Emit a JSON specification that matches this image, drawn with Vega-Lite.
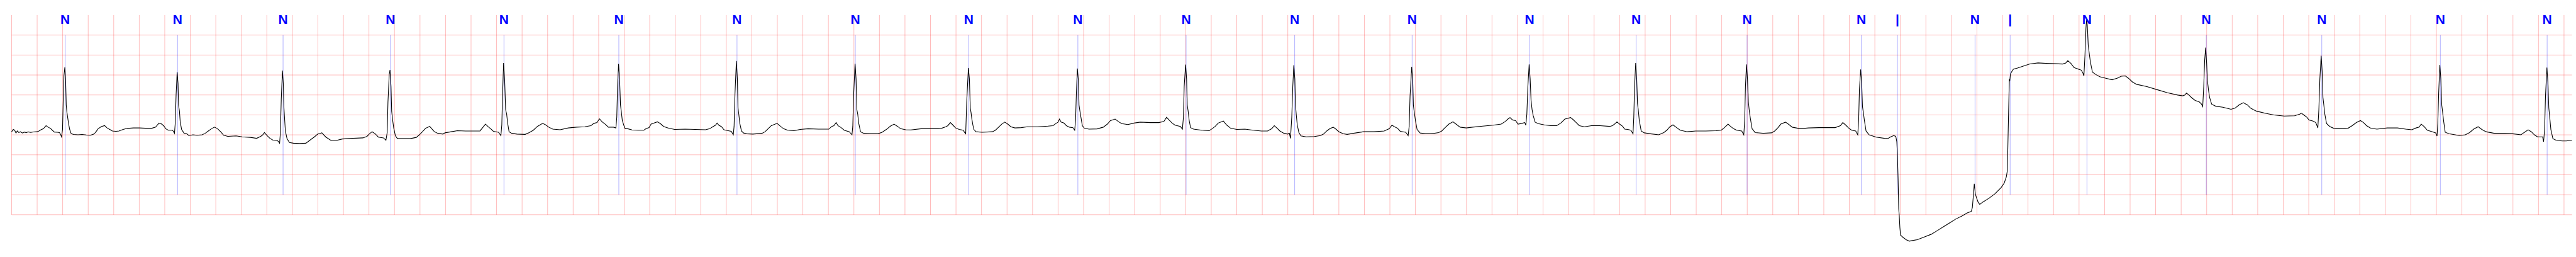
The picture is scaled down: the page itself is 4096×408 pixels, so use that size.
{
"$schema":"https://vega.github.io/schema/vega-lite/v6.json",
"width":4096,"height":408,"autosize":"none","padding":0,"background":"white",
"config":{"view":{"stroke":null}},
"datasets":{
"vgrid":[{"t":0},{"t":0.2},{"t":0.4},{"t":0.6},{"t":0.8},{"t":1},{"t":1.2},{"t":1.4},{"t":1.6},{"t":1.8},{"t":2},{"t":2.2},{"t":2.4},{"t":2.6},{"t":2.8},{"t":3},{"t":3.2},{"t":3.4},{"t":3.6},{"t":3.8},{"t":4},{"t":4.2},{"t":4.4},{"t":4.6},{"t":4.8},{"t":5},{"t":5.2},{"t":5.4},{"t":5.6},{"t":5.8},{"t":6},{"t":6.2},{"t":6.4},{"t":6.6},{"t":6.8},{"t":7},{"t":7.2},{"t":7.4},{"t":7.6},{"t":7.8},{"t":8},{"t":8.2},{"t":8.4},{"t":8.6},{"t":8.8},{"t":9},{"t":9.2},{"t":9.4},{"t":9.6},{"t":9.8},{"t":10},{"t":10.2},{"t":10.4},{"t":10.6},{"t":10.8},{"t":11},{"t":11.2},{"t":11.4},{"t":11.6},{"t":11.8},{"t":12},{"t":12.2},{"t":12.4},{"t":12.6},{"t":12.8},{"t":13},{"t":13.2},{"t":13.4},{"t":13.6},{"t":13.8},{"t":14},{"t":14.2},{"t":14.4},{"t":14.6},{"t":14.8},{"t":15},{"t":15.2},{"t":15.4},{"t":15.6},{"t":15.8},{"t":16},{"t":16.2},{"t":16.4},{"t":16.6},{"t":16.8},{"t":17},{"t":17.2},{"t":17.4},{"t":17.6},{"t":17.8},{"t":18},{"t":18.2},{"t":18.4},{"t":18.6},{"t":18.8},{"t":19},{"t":19.2},{"t":19.4},{"t":19.6},{"t":19.8},{"t":20}],
"hgrid":[{"v":2},{"v":1.5},{"v":1},{"v":0.5},{"v":0},{"v":-0.5},{"v":-1},{"v":-1.5},{"v":-2},{"v":-2.5}],
"ann":[{"t":0.420,"sym":"N"},{"t":1.300,"sym":"N"},{"t":2.127,"sym":"N"},{"t":2.968,"sym":"N"},{"t":3.858,"sym":"N"},{"t":4.758,"sym":"N"},{"t":5.684,"sym":"N"},{"t":6.611,"sym":"N"},{"t":7.500,"sym":"N"},{"t":8.355,"sym":"N"},{"t":9.203,"sym":"N"},{"t":10.054,"sym":"N"},{"t":10.974,"sym":"N"},{"t":11.894,"sym":"N"},{"t":12.729,"sym":"N"},{"t":13.599,"sym":"N"},{"t":14.494,"sym":"N"},{"t":14.777,"sym":"|"},{"t":15.385,"sym":"N"},{"t":15.660,"sym":"|"},{"t":16.262,"sym":"N"},{"t":17.197,"sym":"N"},{"t":18.102,"sym":"N"},{"t":19.031,"sym":"N"},{"t":19.868,"sym":"N"}],
"ecg":[
{"t":0.000,"v":-0.422},{"t":0.013,"v":-0.365},{"t":0.024,"v":-0.384},{"t":0.034,"v":-0.453},{"t":0.045,"v":-0.403},{"t":0.056,"v":-0.442},{"t":0.069,"v":-0.422},{"t":0.085,"v":-0.453},{"t":0.100,"v":-0.430},{"t":0.115,"v":-0.445},{"t":0.130,"v":-0.425},{"t":0.150,"v":-0.438},{"t":0.170,"v":-0.428},{"t":0.198,"v":-0.422},{"t":0.214,"v":-0.403},{"t":0.230,"v":-0.373},{"t":0.249,"v":-0.346},{"t":0.270,"v":-0.269},{"t":0.286,"v":-0.307},{"t":0.303,"v":-0.334},{"t":0.319,"v":-0.384},{"t":0.335,"v":-0.430},{"t":0.359,"v":-0.434},{"t":0.375,"v":-0.442},{"t":0.385,"v":-0.499},{"t":0.391,"v":-0.549},{"t":0.399,"v":-0.365},{"t":0.404,"v":0.325},{"t":0.410,"v":0.977},{"t":0.417,"v":1.195},{"t":0.423,"v":0.900},{"t":0.428,"v":0.248},{"t":0.433,"v":0.076},{"t":0.439,"v":-0.058},{"t":0.447,"v":-0.231},{"t":0.455,"v":-0.365},{"t":0.467,"v":-0.472},{"t":0.487,"v":-0.491},{"t":0.520,"v":-0.499},{"t":0.552,"v":-0.491},{"t":0.585,"v":-0.503},{"t":0.616,"v":-0.511},{"t":0.640,"v":-0.488},{"t":0.657,"v":-0.442},{"t":0.678,"v":-0.346},{"t":0.705,"v":-0.288},{"t":0.729,"v":-0.269},{"t":0.748,"v":-0.327},{"t":0.769,"v":-0.365},{"t":0.790,"v":-0.403},{"t":0.817,"v":-0.411},{"t":0.841,"v":-0.403},{"t":0.874,"v":-0.365},{"t":0.906,"v":-0.338},{"t":0.954,"v":-0.327},{"t":1.002,"v":-0.327},{"t":1.051,"v":-0.334},{"t":1.099,"v":-0.334},{"t":1.128,"v":-0.307},{"t":1.155,"v":-0.204},{"t":1.171,"v":-0.219},{"t":1.191,"v":-0.269},{"t":1.208,"v":-0.346},{"t":1.228,"v":-0.384},{"t":1.260,"v":-0.384},{"t":1.270,"v":-0.422},{"t":1.276,"v":-0.461},{"t":1.282,"v":-0.212},{"t":1.289,"v":0.517},{"t":1.297,"v":1.072},{"t":1.304,"v":0.785},{"t":1.308,"v":0.248},{"t":1.315,"v":0.095},{"t":1.321,"v":-0.173},{"t":1.332,"v":-0.365},{"t":1.352,"v":-0.461},{"t":1.372,"v":-0.472},{"t":1.389,"v":-0.518},{"t":1.421,"v":-0.499},{"t":1.453,"v":-0.511},{"t":1.493,"v":-0.499},{"t":1.517,"v":-0.461},{"t":1.541,"v":-0.403},{"t":1.566,"v":-0.346},{"t":1.590,"v":-0.307},{"t":1.614,"v":-0.346},{"t":1.638,"v":-0.422},{"t":1.662,"v":-0.511},{"t":1.694,"v":-0.537},{"t":1.759,"v":-0.526},{"t":1.807,"v":-0.549},{"t":1.871,"v":-0.564},{"t":1.920,"v":-0.587},{"t":1.952,"v":-0.537},{"t":1.968,"v":-0.499},{"t":1.981,"v":-0.442},{"t":2.000,"v":-0.511},{"t":2.024,"v":-0.587},{"t":2.048,"v":-0.633},{"t":2.081,"v":-0.641},{"t":2.093,"v":-0.672},{"t":2.100,"v":-0.710},{"t":2.106,"v":-0.442},{"t":2.113,"v":0.402},{"t":2.122,"v":1.111},{"t":2.129,"v":0.785},{"t":2.134,"v":0.172},{"t":2.139,"v":-0.097},{"t":2.145,"v":-0.403},{"t":2.158,"v":-0.595},{"t":2.177,"v":-0.691},{"t":2.209,"v":-0.710},{"t":2.257,"v":-0.718},{"t":2.306,"v":-0.710},{"t":2.338,"v":-0.633},{"t":2.370,"v":-0.557},{"t":2.399,"v":-0.480},{"t":2.431,"v":-0.450},
{"t":2.463,"v":-0.557},{"t":2.503,"v":-0.641},{"t":2.544,"v":-0.641},{"t":2.592,"v":-0.603},{"t":2.672,"v":-0.587},{"t":2.753,"v":-0.576},{"t":2.785,"v":-0.537},{"t":2.804,"v":-0.472},{"t":2.825,"v":-0.422},{"t":2.849,"v":-0.472},{"t":2.874,"v":-0.557},{"t":2.914,"v":-0.576},{"t":2.933,"v":-0.633},{"t":2.943,"v":-0.442},{"t":2.949,"v":0.325},{"t":2.959,"v":1.015},{"t":2.965,"v":1.126},{"t":2.973,"v":0.708},{"t":2.978,"v":0.095},{"t":2.986,"v":-0.135},{"t":2.994,"v":-0.327},{"t":3.007,"v":-0.518},{"t":3.023,"v":-0.595},{"t":3.059,"v":-0.595},{"t":3.123,"v":-0.595},{"t":3.171,"v":-0.564},{"t":3.195,"v":-0.499},{"t":3.219,"v":-0.422},{"t":3.244,"v":-0.334},{"t":3.276,"v":-0.288},{"t":3.292,"v":-0.346},{"t":3.313,"v":-0.422},{"t":3.340,"v":-0.461},{"t":3.380,"v":-0.480},{"t":3.396,"v":-0.449},{"t":3.445,"v":-0.422},{"t":3.493,"v":-0.395},{"t":3.557,"v":-0.403},{"t":3.622,"v":-0.403},{"t":3.670,"v":-0.403},{"t":3.689,"v":-0.327},{"t":3.713,"v":-0.231},{"t":3.734,"v":-0.296},{"t":3.758,"v":-0.357},{"t":3.775,"v":-0.411},{"t":3.815,"v":-0.434},{"t":3.834,"v":-0.518},{"t":3.841,"v":-0.250},{"t":3.847,"v":0.517},{"t":3.855,"v":1.302},{"t":3.863,"v":0.900},{"t":3.871,"v":0.133},{"t":3.879,"v":0.018},{"t":3.887,"v":-0.212},{"t":3.898,"v":-0.422},{"t":3.919,"v":-0.461},{"t":3.960,"v":-0.480},{"t":4.024,"v":-0.488},{"t":4.056,"v":-0.442},{"t":4.088,"v":-0.384},{"t":4.120,"v":-0.288},{"t":4.161,"v":-0.212},{"t":4.185,"v":-0.250},{"t":4.209,"v":-0.307},{"t":4.241,"v":-0.357},{"t":4.298,"v":-0.373},{"t":4.362,"v":-0.327},{"t":4.426,"v":-0.307},{"t":4.491,"v":-0.296},{"t":4.539,"v":-0.269},{"t":4.563,"v":-0.212},{"t":4.587,"v":-0.192},{"t":4.606,"v":-0.097},{"t":4.627,"v":-0.173},{"t":4.651,"v":-0.231},{"t":4.676,"v":-0.307},{"t":4.716,"v":-0.307},{"t":4.735,"v":-0.327},{"t":4.742,"v":-0.058},{"t":4.748,"v":0.709},{"t":4.756,"v":1.276},{"t":4.764,"v":0.900},{"t":4.771,"v":0.248},{"t":4.777,"v":0.095},{"t":4.785,"v":-0.135},{"t":4.796,"v":-0.250},{"t":4.808,"v":-0.346},{"t":4.828,"v":-0.346},{"t":4.861,"v":-0.377},{"t":4.909,"v":-0.384},{"t":4.954,"v":-0.384},
{"t":4.971,"v":-0.346},{"t":4.995,"v":-0.319},{"t":5.011,"v":-0.231},{"t":5.035,"v":-0.204},{"t":5.060,"v":-0.173},{"t":5.084,"v":-0.219},{"t":5.108,"v":-0.288},{"t":5.148,"v":-0.334},{"t":5.196,"v":-0.365},{"t":5.277,"v":-0.357},{"t":5.357,"v":-0.365},{"t":5.438,"v":-0.373},{"t":5.470,"v":-0.346},{"t":5.494,"v":-0.296},{"t":5.515,"v":-0.258},{"t":5.528,"v":-0.204},{"t":5.542,"v":-0.258},{"t":5.563,"v":-0.296},{"t":5.582,"v":-0.373},{"t":5.615,"v":-0.395},{"t":5.639,"v":-0.411},{"t":5.655,"v":-0.499},{"t":5.661,"v":-0.288},{"t":5.668,"v":0.517},{"t":5.679,"v":1.353},{"t":5.687,"v":0.900},{"t":5.692,"v":0.172},{"t":5.698,"v":0.018},{"t":5.706,"v":-0.212},{"t":5.719,"v":-0.403},{"t":5.735,"v":-0.453},{"t":5.759,"v":-0.472},{"t":5.808,"v":-0.480},{"t":5.880,"v":-0.461},{"t":5.904,"v":-0.422},{"t":5.928,"v":-0.346},{"t":5.953,"v":-0.269},{"t":5.998,"v":-0.212},{"t":6.025,"v":-0.288},{"t":6.049,"v":-0.346},{"t":6.081,"v":-0.384},{"t":6.130,"v":-0.395},{"t":6.178,"v":-0.365},{"t":6.242,"v":-0.346},{"t":6.323,"v":-0.357},{"t":6.403,"v":-0.357},{"t":6.427,"v":-0.288},{"t":6.443,"v":-0.269},{"t":6.461,"v":-0.192},{"t":6.475,"v":-0.269},{"t":6.500,"v":-0.319},{"t":6.524,"v":-0.384},{"t":6.564,"v":-0.422},{"t":6.585,"v":-0.499},{"t":6.591,"v":-0.288},{"t":6.598,"v":0.517},{"t":6.609,"v":1.283},{"t":6.617,"v":0.900},{"t":6.623,"v":0.133},{"t":6.630,"v":0.018},{"t":6.638,"v":-0.212},{"t":6.652,"v":-0.422},{"t":6.677,"v":-0.461},{"t":6.725,"v":-0.472},{"t":6.789,"v":-0.472},{"t":6.821,"v":-0.434},{"t":6.854,"v":-0.365},{"t":6.886,"v":-0.281},{"t":6.915,"v":-0.231},{"t":6.942,"v":-0.288},{"t":6.966,"v":-0.346},{"t":7.006,"v":-0.373},{"t":7.047,"v":-0.377},{"t":7.127,"v":-0.346},{"t":7.208,"v":-0.346},{"t":7.288,"v":-0.334},{"t":7.320,"v":-0.296},{"t":7.336,"v":-0.269},{"t":7.356,"v":-0.192},{"t":7.372,"v":-0.242},{"t":7.397,"v":-0.327},{"t":7.425,"v":-0.365},{"t":7.457,"v":-0.384},{"t":7.468,"v":-0.442},{"t":7.476,"v":-0.472},
{"t":7.484,"v":0.325},{"t":7.497,"v":1.176},{"t":7.505,"v":0.900},{"t":7.512,"v":0.172},{"t":7.518,"v":0.056},{"t":7.524,"v":-0.097},{"t":7.532,"v":-0.250},{"t":7.540,"v":-0.365},{"t":7.557,"v":-0.422},{"t":7.605,"v":-0.434},{"t":7.685,"v":-0.422},{"t":7.709,"v":-0.384},{"t":7.734,"v":-0.307},{"t":7.758,"v":-0.231},{"t":7.782,"v":-0.181},{"t":7.806,"v":-0.231},{"t":7.830,"v":-0.296},{"t":7.862,"v":-0.327},{"t":7.911,"v":-0.319},{"t":7.959,"v":-0.296},{"t":8.039,"v":-0.296},{"t":8.120,"v":-0.281},{"t":8.160,"v":-0.269},{"t":8.184,"v":-0.212},{"t":8.200,"v":-0.181},{"t":8.211,"v":-0.104},{"t":8.224,"v":-0.181},{"t":8.245,"v":-0.204},{"t":8.265,"v":-0.269},{"t":8.289,"v":-0.307},{"t":8.316,"v":-0.319},{"t":8.330,"v":-0.384},{"t":8.337,"v":-0.135},{"t":8.343,"v":0.517},{"t":8.351,"v":1.161},{"t":8.359,"v":0.862},{"t":8.364,"v":0.248},{"t":8.371,"v":0.095},{"t":8.379,"v":-0.058},{"t":8.390,"v":-0.269},{"t":8.406,"v":-0.334},{"t":8.442,"v":-0.357},{"t":8.506,"v":-0.350},{"t":8.554,"v":-0.307},{"t":8.586,"v":-0.231},{"t":8.610,"v":-0.143},{"t":8.647,"v":-0.104},{"t":8.675,"v":-0.173},{"t":8.699,"v":-0.219},{"t":8.747,"v":-0.242},{"t":8.795,"v":-0.204},{"t":8.844,"v":-0.181},{"t":8.924,"v":-0.192},{"t":8.989,"v":-0.192},{"t":9.029,"v":-0.165},{"t":9.050,"v":-0.058},{"t":9.069,"v":-0.127},{"t":9.093,"v":-0.204},{"t":9.117,"v":-0.258},{"t":9.158,"v":-0.288},{"t":9.174,"v":-0.357},{"t":9.182,"v":-0.058},{"t":9.188,"v":0.708},{"t":9.199,"v":1.260},{"t":9.207,"v":0.900},{"t":9.212,"v":0.248},{"t":9.219,"v":0.095},{"t":9.227,"v":-0.135},{"t":9.238,"v":-0.319},{"t":9.262,"v":-0.357},{"t":9.326,"v":-0.384},{"t":9.383,"v":-0.395},{"t":9.407,"v":-0.346},{"t":9.431,"v":-0.288},{"t":9.455,"v":-0.204},{"t":9.495,"v":-0.154},{"t":9.520,"v":-0.250},{"t":9.552,"v":-0.334},{"t":9.600,"v":-0.365},{"t":9.664,"v":-0.357},{"t":9.729,"v":-0.384},{"t":9.793,"v":-0.403},{"t":9.841,"v":-0.403},{"t":9.874,"v":-0.346},{"t":9.894,"v":-0.269},{"t":9.914,"v":-0.327},{"t":9.938,"v":-0.403},{"t":9.970,"v":-0.461},{"t":9.999,"v":-0.480},
{"t":10.012,"v":-0.461},{"t":10.021,"v":-0.587},{"t":10.031,"v":-0.058},{"t":10.039,"v":0.708},{"t":10.047,"v":1.245},{"t":10.055,"v":0.900},{"t":10.060,"v":0.248},{"t":10.066,"v":0.018},{"t":10.074,"v":-0.250},{"t":10.087,"v":-0.442},{"t":10.103,"v":-0.526},{"t":10.144,"v":-0.549},{"t":10.208,"v":-0.541},{"t":10.256,"v":-0.518},{"t":10.280,"v":-0.480},{"t":10.305,"v":-0.403},{"t":10.329,"v":-0.346},{"t":10.356,"v":-0.307},{"t":10.377,"v":-0.357},{"t":10.401,"v":-0.422},{"t":10.433,"v":-0.472},{"t":10.465,"v":-0.488},{"t":10.514,"v":-0.461},{"t":10.594,"v":-0.422},{"t":10.675,"v":-0.422},{"t":10.755,"v":-0.403},{"t":10.795,"v":-0.346},{"t":10.816,"v":-0.258},{"t":10.836,"v":-0.296},{"t":10.860,"v":-0.334},{"t":10.881,"v":-0.411},{"t":10.924,"v":-0.434},{"t":10.943,"v":-0.518},{"t":10.951,"v":-0.288},{"t":10.958,"v":0.478},{"t":10.971,"v":1.207},{"t":10.979,"v":0.862},{"t":10.984,"v":0.248},{"t":10.990,"v":0.095},{"t":11.000,"v":-0.135},{"t":11.013,"v":-0.365},{"t":11.037,"v":-0.453},{"t":11.077,"v":-0.472},{"t":11.125,"v":-0.472},{"t":11.182,"v":-0.442},{"t":11.206,"v":-0.403},{"t":11.230,"v":-0.327},{"t":11.262,"v":-0.231},{"t":11.294,"v":-0.173},{"t":11.318,"v":-0.231},{"t":11.350,"v":-0.307},{"t":11.399,"v":-0.327},{"t":11.447,"v":-0.307},{"t":11.527,"v":-0.281},{"t":11.608,"v":-0.258},{"t":11.672,"v":-0.231},{"t":11.704,"v":-0.165},{"t":11.725,"v":-0.104},{"t":11.741,"v":-0.066},{"t":11.761,"v":-0.127},{"t":11.785,"v":-0.143},{"t":11.804,"v":-0.231},{"t":11.833,"v":-0.212},{"t":11.857,"v":-0.192},{"t":11.865,"v":-0.258},{"t":11.873,"v":0.018},{"t":11.881,"v":0.708},{"t":11.891,"v":1.264},{"t":11.899,"v":0.900},{"t":11.906,"v":0.363},{"t":11.914,"v":0.133},{"t":11.923,"v":-0.020},{"t":11.938,"v":-0.181},{"t":11.962,"v":-0.219},{"t":12.010,"v":-0.250},{"t":12.058,"v":-0.269},{"t":12.107,"v":-0.269},{"t":12.139,"v":-0.204},{"t":12.171,"v":-0.104},{"t":12.216,"v":-0.066},{"t":12.235,"v":-0.116},{"t":12.260,"v":-0.192},{"t":12.284,"v":-0.269},{"t":12.324,"v":-0.296},{"t":12.380,"v":-0.269},{"t":12.445,"v":-0.269},{"t":12.522,"v":-0.288},
{"t":12.544,"v":-0.269},{"t":12.560,"v":-0.231},{"t":12.579,"v":-0.173},{"t":12.600,"v":-0.231},{"t":12.624,"v":-0.288},{"t":12.640,"v":-0.357},{"t":12.664,"v":-0.365},{"t":12.688,"v":-0.384},{"t":12.705,"v":-0.472},{"t":12.711,"v":-0.058},{"t":12.717,"v":0.708},{"t":12.726,"v":1.302},{"t":12.734,"v":0.900},{"t":12.740,"v":0.287},{"t":12.746,"v":0.133},{"t":12.754,"v":-0.135},{"t":12.769,"v":-0.403},{"t":12.793,"v":-0.449},{"t":12.841,"v":-0.472},{"t":12.906,"v":-0.499},{"t":12.946,"v":-0.442},{"t":12.970,"v":-0.384},{"t":12.994,"v":-0.296},{"t":13.018,"v":-0.250},{"t":13.042,"v":-0.307},{"t":13.075,"v":-0.384},{"t":13.131,"v":-0.422},{"t":13.195,"v":-0.403},{"t":13.276,"v":-0.403},{"t":13.356,"v":-0.395},{"t":13.396,"v":-0.384},{"t":13.421,"v":-0.319},{"t":13.450,"v":-0.231},{"t":13.469,"v":-0.288},{"t":13.493,"v":-0.346},{"t":13.517,"v":-0.384},{"t":13.557,"v":-0.403},{"t":13.573,"v":-0.499},{"t":13.580,"v":-0.135},{"t":13.586,"v":0.708},{"t":13.594,"v":1.264},{"t":13.602,"v":0.900},{"t":13.609,"v":0.325},{"t":13.615,"v":0.133},{"t":13.623,"v":-0.058},{"t":13.638,"v":-0.346},{"t":13.662,"v":-0.442},{"t":13.726,"v":-0.461},{"t":13.791,"v":-0.449},{"t":13.815,"v":-0.403},{"t":13.839,"v":-0.327},{"t":13.863,"v":-0.231},{"t":13.900,"v":-0.181},{"t":13.927,"v":-0.242},{"t":13.952,"v":-0.307},{"t":14.016,"v":-0.346},{"t":14.080,"v":-0.327},{"t":14.161,"v":-0.319},{"t":14.225,"v":-0.319},{"t":14.289,"v":-0.319},{"t":14.330,"v":-0.269},{"t":14.349,"v":-0.192},{"t":14.370,"v":-0.250},{"t":14.394,"v":-0.327},{"t":14.418,"v":-0.384},{"t":14.450,"v":-0.403},{"t":14.466,"v":-0.499},{"t":14.473,"v":-0.135},{"t":14.479,"v":0.632},{"t":14.489,"v":1.138},{"t":14.497,"v":0.785},{"t":14.503,"v":0.210},{"t":14.510,"v":0.057},{"t":14.518,"v":-0.135},{"t":14.531,"v":-0.403},{"t":14.555,"v":-0.499},{"t":14.611,"v":-0.557},{"t":14.676,"v":-0.587},{"t":14.700,"v":-0.595},{"t":14.724,"v":-0.549},{"t":14.748,"v":-0.518},{"t":14.764,"v":-0.537},{"t":14.772,"v":-0.672},{"t":14.777,"v":-1.017},{"t":14.782,"v":-1.591},{"t":14.787,"v":-2.358},{"t":14.791,"v":-2.511},{"t":14.796,"v":-2.818},{"t":14.801,"v":-3.010},{"t":14.820,"v":-3.067},{"t":14.845,"v":-3.125},{"t":14.869,"v":-3.163},{"t":14.901,"v":-3.144},{"t":14.933,"v":-3.125},{"t":14.981,"v":-3.067},{"t":15.042,"v":-2.990},
{"t":15.091,"v":-2.895},{"t":15.139,"v":-2.799},{"t":15.187,"v":-2.703},{"t":15.235,"v":-2.607},{"t":15.284,"v":-2.531},{"t":15.324,"v":-2.454},{"t":15.356,"v":-2.416},{"t":15.364,"v":-2.320},{"t":15.371,"v":-2.051},{"t":15.379,"v":-1.726},{"t":15.387,"v":-1.975},{"t":15.396,"v":-2.071},{"t":15.409,"v":-2.186},{"t":15.422,"v":-2.243},{"t":15.445,"v":-2.186},{"t":15.493,"v":-2.090},{"t":15.541,"v":-1.975},{"t":15.589,"v":-1.821},{"t":15.614,"v":-1.706},{"t":15.630,"v":-1.553},{"t":15.638,"v":-1.400},{"t":15.642,"v":-0.825},{"t":15.647,"v":-0.058},{"t":15.651,"v":0.517},{"t":15.654,"v":0.900},{"t":15.657,"v":0.842},{"t":15.662,"v":1.015},{"t":15.670,"v":1.072},{"t":15.686,"v":1.149},{"t":15.718,"v":1.176},{"t":15.766,"v":1.226},{"t":15.815,"v":1.276},{"t":15.879,"v":1.302},{"t":15.943,"v":1.291},{"t":16.008,"v":1.283},{"t":16.072,"v":1.276},{"t":16.096,"v":1.302},{"t":16.112,"v":1.360},{"t":16.136,"v":1.291},{"t":16.161,"v":1.187},{"t":16.193,"v":1.149},{"t":16.217,"v":1.122},{"t":16.230,"v":1.053},{"t":16.238,"v":0.977},{"t":16.246,"v":1.475},{"t":16.254,"v":2.165},{"t":16.259,"v":2.395},{"t":16.265,"v":2.241},{"t":16.272,"v":1.743},{"t":16.281,"v":1.513},{"t":16.289,"v":1.322},{"t":16.305,"v":1.072},{"t":16.330,"v":1.015},{"t":16.362,"v":0.957},{"t":16.410,"v":0.919},{"t":16.458,"v":0.881},{"t":16.498,"v":0.919},{"t":16.531,"v":0.969},{"t":16.563,"v":0.977},{"t":16.587,"v":0.919},{"t":16.619,"v":0.823},{"t":16.651,"v":0.766},{"t":16.732,"v":0.708},{"t":16.812,"v":0.632},{"t":16.893,"v":0.555},{"t":16.973,"v":0.498},{"t":17.013,"v":0.478},{"t":17.029,"v":0.498},{"t":17.042,"v":0.547},{"t":17.061,"v":0.498},{"t":17.086,"v":0.421},{"t":17.110,"v":0.363},{"t":17.142,"v":0.325},{"t":17.158,"v":0.279},{"t":17.169,"v":0.210},{"t":17.177,"v":0.708},{"t":17.184,"v":1.360},{"t":17.192,"v":1.686},{"t":17.200,"v":1.283},{"t":17.206,"v":0.862},{"t":17.214,"v":0.632},{"t":17.223,"v":0.440},{"t":17.239,"v":0.268},{"t":17.271,"v":0.218},{"t":17.327,"v":0.191},{"t":17.391,"v":0.141},{"t":17.424,"v":0.172},{"t":17.456,"v":0.256},{"t":17.488,"v":0.306},{"t":17.520,"v":0.248},{"t":17.544,"v":0.172},{"t":17.565,"v":0.133},
{"t":17.590,"v":0.095},{"t":17.615,"v":0.076},{"t":17.663,"v":0.038},{"t":17.727,"v":-0.001},{"t":17.808,"v":-0.028},{"t":17.889,"v":-0.020},{"t":17.929,"v":0.018},{"t":17.942,"v":0.045},{"t":17.961,"v":-0.001},{"t":17.985,"v":-0.058},{"t":18.002,"v":-0.127},{"t":18.034,"v":-0.154},{"t":18.055,"v":-0.192},{"t":18.071,"v":-0.327},{"t":18.079,"v":0.133},{"t":18.087,"v":0.900},{"t":18.097,"v":1.483},{"t":18.105,"v":1.092},{"t":18.111,"v":0.440},{"t":18.118,"v":0.248},{"t":18.126,"v":0.018},{"t":18.139,"v":-0.212},{"t":18.163,"v":-0.288},{"t":18.195,"v":-0.334},{"t":18.244,"v":-0.346},{"t":18.308,"v":-0.334},{"t":18.340,"v":-0.269},{"t":18.373,"v":-0.192},{"t":18.405,"v":-0.143},{"t":18.429,"v":-0.192},{"t":18.453,"v":-0.269},{"t":18.485,"v":-0.334},{"t":18.534,"v":-0.357},{"t":18.615,"v":-0.327},{"t":18.695,"v":-0.327},{"t":18.760,"v":-0.357},{"t":18.808,"v":-0.373},{"t":18.840,"v":-0.327},{"t":18.865,"v":-0.307},{"t":18.881,"v":-0.231},{"t":18.905,"v":-0.296},{"t":18.929,"v":-0.384},{"t":18.969,"v":-0.422},{"t":18.994,"v":-0.449},{"t":19.005,"v":-0.530},{"t":19.011,"v":-0.212},{"t":19.018,"v":0.555},{"t":19.027,"v":1.253},{"t":19.035,"v":0.900},{"t":19.042,"v":0.248},{"t":19.048,"v":0.095},{"t":19.056,"v":-0.135},{"t":19.069,"v":-0.434},{"t":19.098,"v":-0.472},{"t":19.147,"v":-0.499},{"t":19.179,"v":-0.518},{"t":19.227,"v":-0.499},{"t":19.260,"v":-0.442},{"t":19.292,"v":-0.357},{"t":19.327,"v":-0.296},{"t":19.356,"v":-0.365},{"t":19.389,"v":-0.422},{"t":19.453,"v":-0.461},{"t":19.534,"v":-0.461},{"t":19.598,"v":-0.472},{"t":19.663,"v":-0.499},{"t":19.687,"v":-0.442},{"t":19.719,"v":-0.373},{"t":19.744,"v":-0.422},{"t":19.768,"v":-0.499},{"t":19.792,"v":-0.549},{"t":19.832,"v":-0.549},{"t":19.840,"v":-0.672},{"t":19.848,"v":-0.365},{"t":19.855,"v":0.478},{"t":19.866,"v":1.187},{"t":19.874,"v":0.823},{"t":19.881,"v":0.172},{"t":19.887,"v":-0.020},{"t":19.897,"v":-0.365},{"t":19.913,"v":-0.595},{"t":19.937,"v":-0.633},{"t":19.985,"v":-0.652},{"t":20.018,"v":-0.652},{"t":20.063,"v":-0.633}
]},
"layer":[
{"data":{"name":"vgrid"},"mark":{"type":"rule","color":"#ff0000","opacity":0.27,"strokeWidth":1},
 "encoding":{"x":{"field":"t","type":"quantitative","scale":{"domain":[-0.091,20.094],"nice":false,"zero":false},"axis":null},
  "y":{"datum":-2.5,"type":"quantitative","scale":{"domain":[-3.56,2.879],"nice":false,"zero":false},"axis":null},"y2":{"datum":2.5}}},
{"data":{"name":"hgrid"},"mark":{"type":"rule","color":"#ff0000","opacity":0.27,"strokeWidth":1},
 "encoding":{"y":{"field":"v","type":"quantitative","scale":{"domain":[-3.56,2.879],"nice":false,"zero":false},"axis":null},
  "x":{"datum":0,"type":"quantitative","scale":{"domain":[-0.091,20.094],"nice":false,"zero":false},"axis":null},"x2":{"datum":20.063}}},
{"data":{"name":"ann"},"mark":{"type":"rule","color":"#0000ff","opacity":0.4,"strokeWidth":0.8},
 "encoding":{"x":{"field":"t","type":"quantitative","scale":{"domain":[-0.091,20.094],"nice":false,"zero":false},"axis":null},
  "y":{"datum":-2.0,"type":"quantitative","scale":{"domain":[-3.56,2.879],"nice":false,"zero":false},"axis":null},"y2":{"datum":2.0}}},
{"data":{"name":"ecg"},"mark":{"type":"line","color":"#000000","strokeWidth":1.1},
 "encoding":{"x":{"field":"t","type":"quantitative","scale":{"domain":[-0.091,20.094],"nice":false,"zero":false},"axis":null},
  "y":{"field":"v","type":"quantitative","scale":{"domain":[-3.56,2.879],"nice":false,"zero":false},"axis":null}}},
{"data":{"name":"ann"},"mark":{"type":"text","color":"#0000ff","font":"Liberation Sans","fontWeight":"bold","fontSize":21,"align":"center","baseline":"alphabetic"},
 "encoding":{"x":{"field":"t","type":"quantitative","scale":{"domain":[-0.091,20.094],"nice":false,"zero":false},"axis":null},
  "y":{"datum":2.287,"type":"quantitative","scale":{"domain":[-3.56,2.879],"nice":false,"zero":false},"axis":null},
  "text":{"field":"sym","type":"nominal"}}}
]
}
